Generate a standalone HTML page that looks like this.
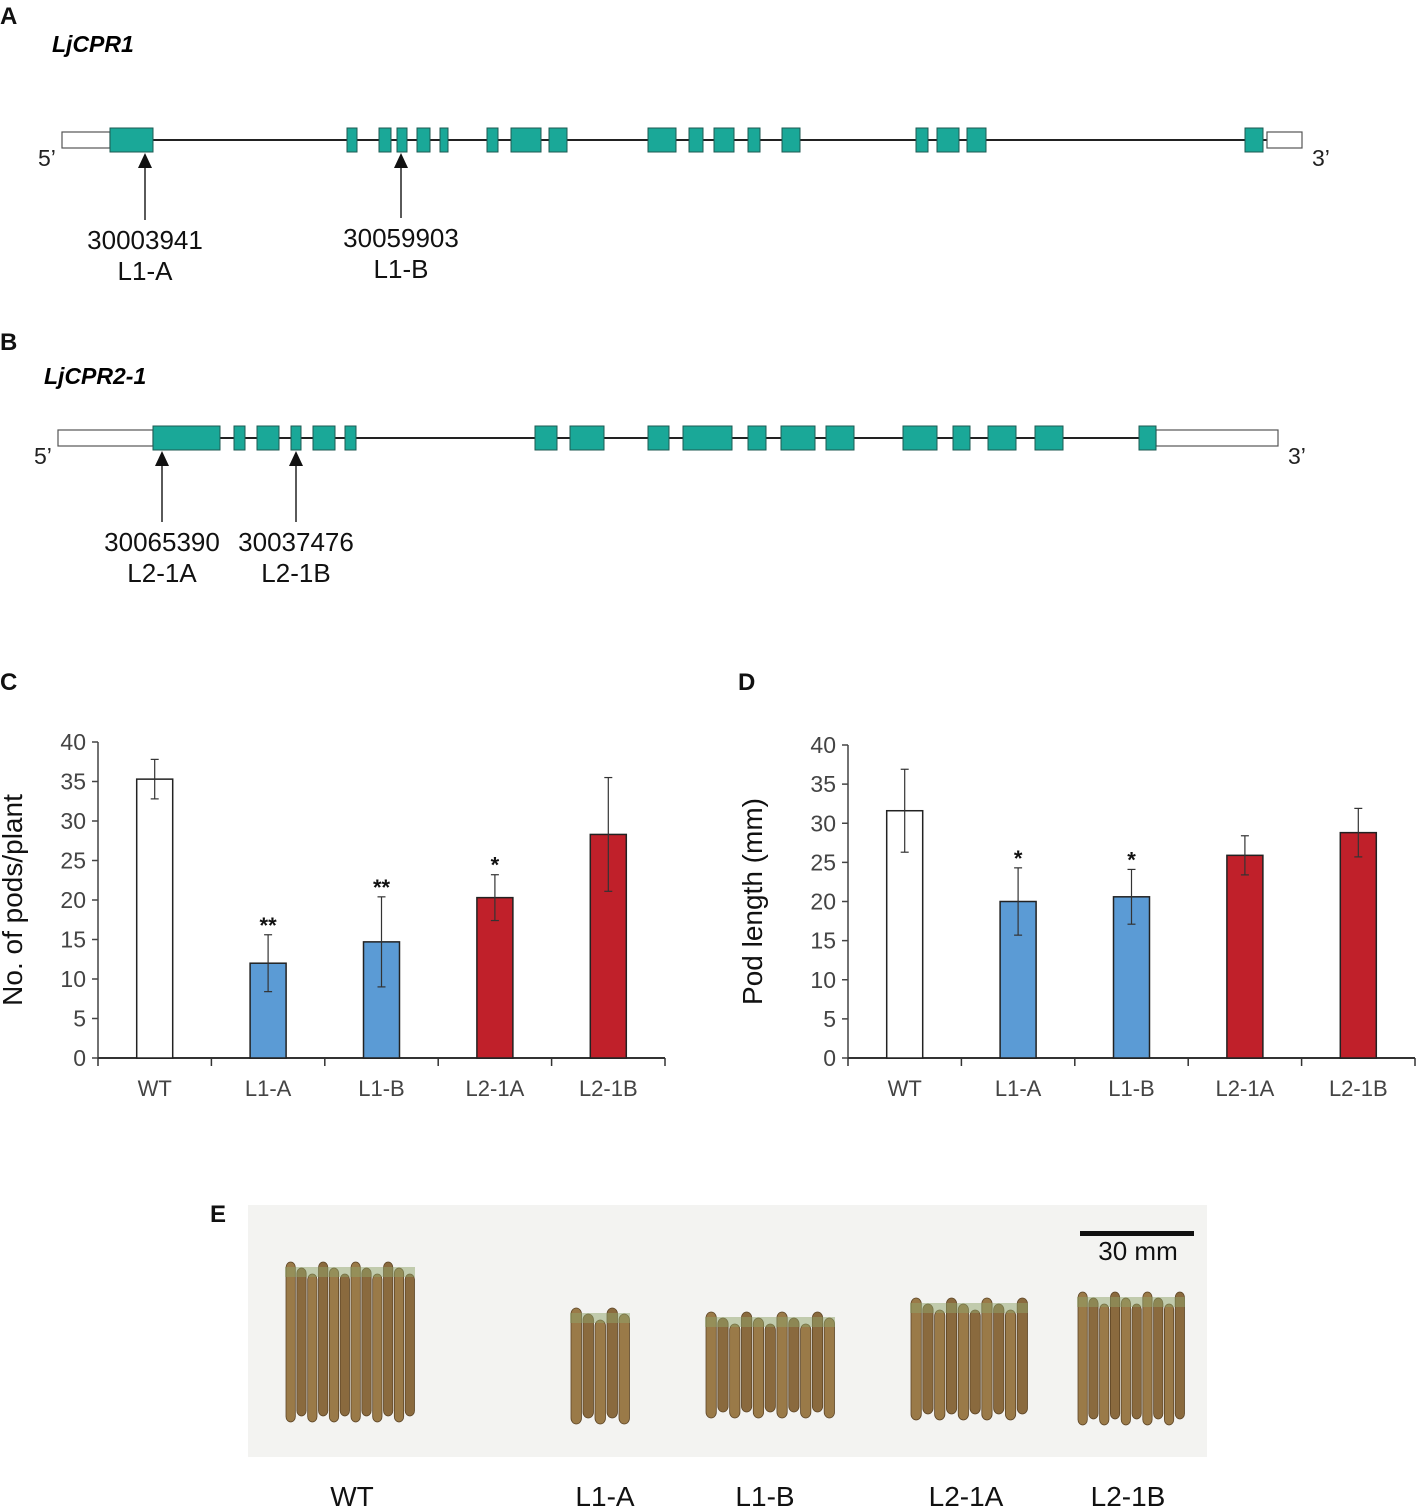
<!DOCTYPE html>
<html><head><meta charset="utf-8"><style>
body{margin:0;background:#fff}
svg{display:block;font-family:"Liberation Sans",Arial,sans-serif}
</style></head><body>
<svg id="fig" width="1417" height="1509" viewBox="0 0 1417 1509">
<g font-weight="bold" font-size="24" fill="#111">
<text x="0" y="24">A</text>
<text x="0" y="350">B</text>
<text x="0" y="690">C</text>
<text x="738" y="690">D</text>
<text x="210" y="1222">E</text>
</g>
<text x="52" y="52" font-size="23" font-weight="bold" font-style="italic">LjCPR1</text>
<text x="44" y="384" font-size="23" font-weight="bold" font-style="italic">LjCPR2-1</text>
<g id="geneA"></g>
<g id="geneB"></g>
<g id="chartC"></g>
<g id="chartD"></g>
<g id="photo"></g>
</svg>
<script>
const NS="http://www.w3.org/2000/svg";
function mk(p,t,a,txt){const e=document.createElementNS(NS,t);for(const k in a)e.setAttribute(k,a[k]);if(txt!==undefined)e.textContent=txt;p.appendChild(e);return e;}
const exonsA=[[110,153],[347,357],[379,391],[397,407],[417,430],[440,448],[487,498],[511,541],[549,567],[648,676],[689,703],[714,734],[748,760],[782,800],[916,928],[937,959],[967,986],[1245,1263]];
const exonsB=[[153,220],[234,245],[257,279],[291,301],[313,335],[345,356],[535,557],[570,604],[648,669],[683,732],[748,766],[781,815],[826,854],[903,937],[953,970],[988,1016],[1035,1063],[1139,1156]];
function gene(g,y,x0,x1,u1,u2,exons,arrows){
  mk(g,'line',{x1:x0,y1:y,x2:x1,y2:y,stroke:'#222','stroke-width':2});
  let r=mk(g,'rect',{x:x0,y:y-8,width:u1-x0,height:16,fill:'#fff',stroke:'#555','stroke-width':1.2});
  
  r=mk(g,'rect',{x:u2,y:y-8,width:x1-u2,height:16,fill:'#fff',stroke:'#555','stroke-width':1.2});
  
  exons.forEach(e=>{const ex=mk(g,'rect',{x:e[0],y:y-12,width:e[1]-e[0],height:24,fill:'#1aa898',stroke:'#1d5a52','stroke-width':1});
    });
  mk(g,'text',{x:x0-24,y:y+26,'font-size':23,fill:'#222'},"5’");
  mk(g,'text',{x:x1+10,y:y+26,'font-size':23,fill:'#222'},"3’");
  arrows.forEach(a=>{const ag=mk(g,'g',{});
    mk(ag,'line',{x1:a.x,y1:y+24,x2:a.x,y2:a.y2,stroke:'#222','stroke-width':1.5});
    mk(ag,'polygon',{points:`${a.x-7},${y+28} ${a.x+7},${y+28} ${a.x},${y+13}`,fill:'#111'});
    mk(ag,'text',{x:a.x,y:a.y2+29,'font-size':26,'text-anchor':'middle',fill:'#111'},a.id);
    mk(ag,'text',{x:a.x,y:a.y2+60,'font-size':26,'text-anchor':'middle',fill:'#111'},a.l);});
}
gene(document.getElementById('geneA'),140,62,1302,110,1267,exonsA,[{x:145,y2:220,id:'30003941',l:'L1-A'},{x:401,y2:218,id:'30059903',l:'L1-B'}]);
gene(document.getElementById('geneB'),438,58,1278,153,1156,exonsB,[{x:162,y2:522,id:'30065390',l:'L2-1A'},{x:296,y2:522,id:'30037476',l:'L2-1B'}]);

const categories=['WT','L1-A','L1-B','L2-1A','L2-1B'];
const podsValues=[35.3,12.0,14.7,20.3,28.3];
const podsErr=[2.5,3.6,5.7,2.9,7.2];
const podsSig=['','**','**','*',''];
const lengthValues=[31.6,20.0,20.6,25.9,28.8];
const lengthErr=[5.3,4.3,3.5,2.5,3.1];
const lengthSig=['','*','*','',''];
const yTicks=[0,5,10,15,20,25,30,35,40];
const barColors=['#ffffff','#5b9bd5','#5b9bd5','#c0202a','#c0202a'];

function chart(g,ax,x1,y0,ytop,vals,errs,sig,title,tx){
  const ys=v=>y0-(v/40)*(y0-ytop);
  const step=(x1-ax)/categories.length;
  const xs=i=>ax+step*(i+0.5);
  const yAxis=mk(g,'g',{});
  mk(yAxis,'line',{x1:ax,y1:ytop,x2:ax,y2:y0,stroke:'#444','stroke-width':1.5});
  yTicks.forEach(t=>{mk(yAxis,'line',{x1:ax-6,y1:ys(t),x2:ax,y2:ys(t),stroke:'#444','stroke-width':1.5});
    const tl=mk(yAxis,'text',{x:ax-12,y:ys(t)+8,'font-size':23,'text-anchor':'end',fill:'#444'},String(t));
    });
  const xAxis=mk(g,'g',{});
  mk(xAxis,'line',{x1:ax,y1:y0,x2:x1,y2:y0,stroke:'#333','stroke-width':2});
  for(let i=0;i<=categories.length;i++)mk(xAxis,'line',{x1:ax+step*i,y1:y0,x2:ax+step*i,y2:y0+8,stroke:'#333','stroke-width':1.5});
  categories.forEach((c,i)=>{const tl=mk(xAxis,'text',{x:xs(i),y:y0+38,'font-size':22,'text-anchor':'middle',fill:'#444'},c);
    });
  const yt=mk(g,'text',{x:0,y:0,'font-size':28,'text-anchor':'middle',fill:'#111',transform:`translate(${tx},${(y0+ytop)/2}) rotate(-90)`},title);
  
  vals.forEach((v,i)=>{const w=36;
    const b=mk(g,'rect',{x:xs(i)-w/2,y:ys(v),width:w,height:y0-ys(v),fill:barColors[i],stroke:'#222','stroke-width':1.5});
    
    const eb=mk(g,'g',{stroke:'#333','stroke-width':1.2});
    const t=ys(v+errs[i]),bt=ys(v-errs[i]);
    mk(eb,'line',{x1:xs(i),y1:t,x2:xs(i),y2:bt});mk(eb,'line',{x1:xs(i)-4,y1:t,x2:xs(i)+4,y2:t});mk(eb,'line',{x1:xs(i)-4,y1:bt,x2:xs(i)+4,y2:bt});
    if(sig[i]){const s=mk(g,'text',{x:xs(i),y:t-2,'font-size':22,'font-weight':'bold','text-anchor':'middle',fill:'#111'},sig[i]);
      }
  });
}
chart(document.getElementById('chartC'),98,665,1058,742,podsValues,podsErr,podsSig,'No. of pods/plant',22);
chart(document.getElementById('chartD'),848,1415,1058,745,lengthValues,lengthErr,lengthSig,'Pod length (mm)',762);

const ph=document.getElementById('photo');
mk(ph,'rect',{x:248,y:1205,width:959,height:252,fill:'#f3f3f1'});
const sb=mk(ph,'g',{});
mk(sb,'rect',{x:1080,y:1231,width:114,height:5,fill:'#111'});
mk(sb,'text',{x:1138,y:1260,'font-size':26,'text-anchor':'middle',fill:'#111'},'30 mm');
const clusters=[[285,415,1262,1422,12],[570,630,1308,1424,5],[705,835,1312,1418,11],[910,1028,1298,1420,10],[1077,1185,1292,1425,10]];
clusters.forEach((c,ci)=>{const cg=mk(ph,'g',{});
  const n=c[4],w=(c[1]-c[0])/n;
  for(let k=0;k<n;k++){const x=c[0]+k*w;const off=(k%3)*6;
    mk(cg,'rect',{x:x+1,y:c[2]+off,width:w-1.5,height:c[3]-c[2]-off-(k%2)*6,rx:w/2,fill:k%2?'#8a6a3e':'#9a7a48',stroke:'#5d4526','stroke-width':0.8});}
  mk(cg,'rect',{x:c[0],y:c[2]+5,width:c[1]-c[0],height:10,fill:'#8fa36a',opacity:0.5});
});
[['WT',352],['L1-A',605],['L1-B',765],['L2-1A',966],['L2-1B',1128]].forEach(l=>{
  const t=mk(ph,'text',{x:l[1],y:1506,'font-size':28,'text-anchor':'middle',fill:'#111'},l[0]);
  });
</script>
</body></html>
